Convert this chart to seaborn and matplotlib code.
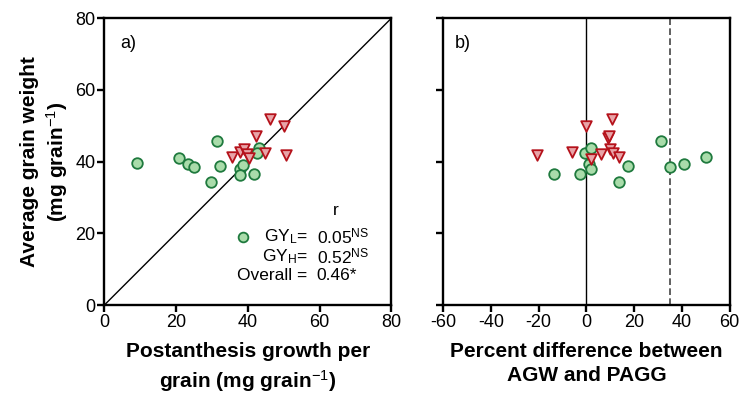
import numpy as np
import pandas as pd
import seaborn as sns
import matplotlib.pyplot as plt

# panel a) : postanthesis growth per grain vs average grain weight
pagg_low = [9.0, 20.7, 23.4, 25.1, 31.5, 32.3, 29.7, 37.7, 38.6, 37.7, 41.6, 43.0, 42.5]
agw_low = [39.5, 41.1, 39.4, 38.5, 45.7, 38.9, 34.2, 38.0, 39.0, 36.4, 36.6, 43.9, 42.3]
pagg_high = [46.2, 50.0, 42.3, 35.6, 37.7, 39.0, 39.7, 40.2, 44.8, 50.6]
agw_high = [51.8, 50.0, 47.0, 41.4, 42.7, 43.5, 42.1, 41.1, 42.5, 41.9]

# panel b) : percent difference between AGW and PAGG
pdiff_low = [-13.4, -2.8, -0.7, 2.0, 1.0, 2.0, 13.5, 17.6, 31.3, 35.2, 41.0, 49.9]
agw_low_b = [36.6, 36.5, 42.3, 43.8, 39.4, 38.0, 34.2, 38.9, 45.8, 38.5, 39.4, 41.2]
pdiff_high = [-20.6, -6.0, -0.1, 1.7, 5.9, 10.5, 9.1, 9.6, 10.0, 11.0, 13.8]
agw_high_b = [41.9, 42.6, 50.0, 40.7, 42.0, 51.8, 46.7, 47.0, 43.5, 42.3, 41.2]

r_labels = ["GY$_\\mathregular{L}$=", "GY$_\\mathregular{H}$=", "Overall ="]
r_values = ["0.05$^\\mathregular{NS}$", "0.52$^\\mathregular{NS}$", "0.46*"]

df_a = pd.DataFrame({
    "x": pagg_low + pagg_high,
    "y": agw_low + agw_high,
    "grp": ["L"] * len(pagg_low) + ["H"] * len(pagg_high),
})
df_b = pd.DataFrame({
    "x": pdiff_low + pdiff_high,
    "y": agw_low_b + agw_high_b,
    "grp": ["L"] * len(pdiff_low) + ["H"] * len(pdiff_high),
})

sns.set_style("ticks")
plt.rcParams["font.family"] = ["Liberation Sans", "DejaVu Sans"]
plt.rcParams["mathtext.fontset"] = "custom"
plt.rcParams["mathtext.rm"] = "Liberation Sans"
plt.rcParams["mathtext.it"] = "Liberation Sans:italic"
plt.rcParams["mathtext.bf"] = "Liberation Sans:bold"
for k in ["text.color", "axes.labelcolor", "xtick.color", "ytick.color"]:
    plt.rcParams[k] = "black"

green_face, green_edge = "#a9dcaa", "#1f7a3e"
red_face, red_edge = "#e8a4a8", "#b5121b"

fig = plt.figure(figsize=(7.4, 4.03), dpi=100)
ax1 = fig.add_axes([0.141, 0.243, 0.388, 0.712])
ax2 = fig.add_axes([0.599, 0.243, 0.387, 0.712])

for ax, df in [(ax1, df_a), (ax2, df_b)]:
    sns.scatterplot(data=df[df.grp == "L"], x="x", y="y", ax=ax, marker="o", s=58,
                    color=green_face, edgecolor=green_edge, linewidth=1.3, zorder=3, legend=False)
    sns.scatterplot(data=df[df.grp == "H"], x="x", y="y", ax=ax, marker="v", s=58,
                    color=red_face, edgecolor=red_edge, linewidth=1.3, zorder=4, legend=False)
    ax.set_ylim(0, 80)
    ax.set_yticks([0, 20, 40, 60, 80])
    for sp in ax.spines.values():
        sp.set_visible(True)
        sp.set_linewidth(1.7)
        sp.set_color("black")
    ax.tick_params(direction="out", length=5, width=1.7, labelsize=13, pad=1.5)

# panel a
ax1.set_xlim(0, 80)
ax1.set_xticks([0, 20, 40, 60, 80])
ax1.plot([0, 80], [0, 80], color="black", lw=1.0, zorder=2)
ax1.set_xlabel("Postanthesis growth per\ngrain (mg grain$^{-1}$)", fontsize=15,
               fontweight="bold", labelpad=8, linespacing=1.35)
ax1.set_ylabel("Average grain weight\n(mg grain$^{-1}$)", fontsize=15,
               fontweight="bold", labelpad=4, linespacing=1.25)
ax1.text(0.055, 0.91, "a)", transform=ax1.transAxes, fontsize=13, va="center")

ax1.text(64.4, 26.5, "r", fontsize=12.5, ha="center", va="center")
ax1.plot([38.5], [19.0], marker="o", ms=7, mfc=green_face, mec=green_edge, mew=1.3, ls="none")
rows_y = [19.0, 13.5, 8.2]
for lab, val, yy in zip(r_labels, r_values, rows_y):
    ax1.text(56.6, yy, lab, fontsize=12.5, ha="right", va="center")
    ax1.text(59.2, yy, val, fontsize=12.5, ha="left", va="center")

# panel b
ax2.set_xlim(-60, 60)
ax2.set_xticks([-60, -40, -20, 0, 20, 40, 60])
ax2.set_xticklabels(["-60", "-40", "-20", "0", "20", "40", "60"])
ax2.axvline(0, color="black", lw=1.0, zorder=2)
ax2.axvline(35, color="#444444", lw=1.2, ls=(0, (4, 2)), zorder=2)
ax2.set_yticklabels([])
ax2.set_ylabel("")
ax2.set_xlabel("Percent difference between\nAGW and PAGG", fontsize=15,
               fontweight="bold", labelpad=8, linespacing=1.35)
ax2.text(0.04, 0.91, "b)", transform=ax2.transAxes, fontsize=13, va="center")

fig.savefig("out.png", dpi=100)
